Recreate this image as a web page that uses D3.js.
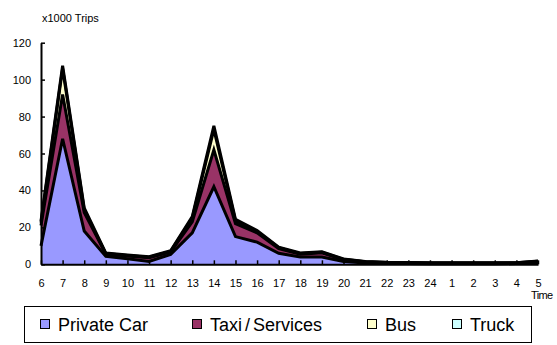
<!DOCTYPE html>
<html>
<head>
<meta charset="utf-8">
<script src="https://cdn.jsdelivr.net/npm/d3@7/dist/d3.min.js"></script>
<style>
  html, body { margin: 0; padding: 0; background: #fff; }
  svg { display: block; font-family: "Liberation Sans", Arial, sans-serif; }
</style>
</head>
<body>
<svg id="chart" width="557" height="345"></svg>
<script>
// Hour of day (starting 6 am, wrapping past midnight)
const hours = ["6","7","8","9","10","11","12","13","14","15","16","17","18","19","20","21","22","23","24","1","2","3","4","5"];

// Trips per hour by mode, in thousands
const privateCar = [10, 68, 18, 4.3, 3, 1.5, 5.4, 17, 42, 15, 12, 6, 4, 4, 1.5, 0.7, 0.5, 0.4, 0.3, 0.3, 0.3, 0.3, 0.4, 0.8];
const taxiServices = [11, 24, 10, 1.2, 1.5, 2, 1.3, 6, 20, 7, 5, 2.5, 1.5, 2.2, 1, 0.5, 0.4, 0.4, 0.3, 0.3, 0.3, 0.3, 0.3, 0.6];
const bus = [1.5, 14, 1.5, 0.3, 0.3, 0.3, 0.3, 2, 11, 1.5, 0.8, 0.5, 0.3, 0.3, 0.2, 0.2, 0.1, 0.1, 0.1, 0.1, 0.1, 0.1, 0.1, 0.2];
const truck = [1, 1.5, 1, 0.3, 0.3, 0.3, 0.3, 0.8, 2, 0.8, 0.5, 0.3, 0.3, 0.3, 0.2, 0.1, 0.1, 0.1, 0.1, 0.1, 0.1, 0.1, 0.1, 0.2];

const seriesNames = ["Private Car", "Taxi/Services", "Bus", "Truck"];
const seriesColors = ["#9999FF", "#993366", "#FFFFCC", "#CCFFFF"];
const yTicks = [0, 20, 40, 60, 80, 100, 120];

const table = hours.map((h, i) => ({
  hour: h,
  "Private Car": privateCar[i],
  "Taxi/Services": taxiServices[i],
  "Bus": bus[i],
  "Truck": truck[i]
}));

const svg = d3.select("#chart");

const x = d3.scalePoint().domain(hours).range([41, 538]);
const y = d3.scaleLinear().domain([0, 120]).range([264.3, 42.7]);

const stacked = d3.stack().keys(seriesNames)(table);

const area = d3.area()
  .x(d => x(d.data.hour))
  .y0(d => y(d[0]))
  .y1(d => y(d[1]));

const topLine = d3.line()
  .x(d => x(d.data.hour))
  .y(d => y(d[1]));

// Filled bands
svg.append("g").selectAll("path")
  .data(stacked)
  .join("path")
  .attr("d", area)
  .attr("fill", (d, i) => seriesColors[i]);

// Black outline along the top of each band
svg.append("g").selectAll("path")
  .data(stacked)
  .join("path")
  .attr("d", topLine)
  .attr("fill", "none")
  .attr("stroke", "#000")
  .attr("stroke-width", 3)
  .attr("stroke-linejoin", "miter");

// Y axis
const yAxis = d3.axisLeft(y).tickValues(yTicks).tickSizeInner(-4).tickSizeOuter(0).tickPadding(10);
const gy = svg.append("g").attr("transform", "translate(41,0)").call(yAxis);
gy.select(".domain").attr("stroke", "#000").attr("stroke-width", 2);
gy.selectAll(".tick line").attr("stroke", "#000").attr("stroke-width", 1.5);
gy.selectAll(".tick text").attr("font-size", 11).attr("fill", "#000")
  .attr("font-family", "Liberation Sans, Arial, sans-serif");

// X axis
const xAxis = d3.axisBottom(x).tickSizeInner(-4).tickSizeOuter(0).tickPadding(15);
const gx = svg.append("g").attr("transform", "translate(0,264.3)").call(xAxis);
gx.select(".domain").attr("stroke", "#000").attr("stroke-width", 2);
gx.selectAll(".tick line").attr("stroke", "#000").attr("stroke-width", 1.5);
gx.selectAll(".tick text").attr("font-size", 11).attr("fill", "#000")
  .attr("font-family", "Liberation Sans, Arial, sans-serif");

// Axis titles
svg.append("text")
  .attr("x", 42).attr("y", 22)
  .attr("font-size", 11)
  .text("x1000 Trips");

svg.append("text")
  .attr("x", 531).attr("y", 299)
  .attr("font-size", 11)
  .attr("letter-spacing", -0.6)
  .text("Time");

// Legend
const legend = svg.append("g");
legend.append("rect")
  .attr("x", 24.5).attr("y", 306.5)
  .attr("width", 507).attr("height", 36)
  .attr("fill", "#fff").attr("stroke", "#000").attr("stroke-width", 1);

const legendX = [40, 192, 367, 452];
const items = legend.selectAll("g.item")
  .data(seriesNames)
  .join("g")
  .attr("class", "item")
  .attr("transform", (d, i) => `translate(${legendX[i]},0)`);

items.append("rect")
  .attr("x", 0.5).attr("y", 319.5)
  .attr("width", 9).attr("height", 9)
  .attr("fill", (d, i) => seriesColors[i])
  .attr("stroke", "#000").attr("stroke-width", 1);

// Label text; the slash in "Taxi/Services" gets a little air on each side
items.append("text")
  .attr("x", 18).attr("y", 331)
  .attr("font-size", 18)
  .each(function (d) {
    const t = d3.select(this);
    const parts = d.split("/");
    if (parts.length === 1) { t.text(d); return; }
    t.append("tspan").text(parts[0]);
    t.append("tspan").attr("dx", 3).text("/");
    t.append("tspan").attr("dx", 3).text(parts[1]);
  });
</script>
</body>
</html>
